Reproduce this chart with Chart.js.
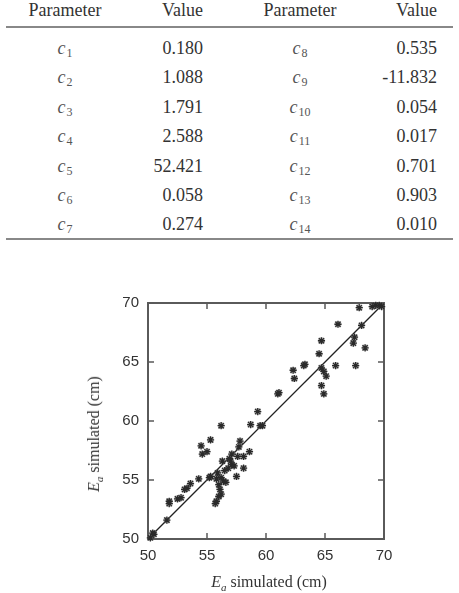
<!DOCTYPE html>
<html>
<head>
<meta charset="utf-8">
<script src="https://cdn.jsdelivr.net/npm/chart.js@4.4.1/dist/chart.umd.min.js"></script>
<style>
  html, body { margin: 0; padding: 0; background: #fff; }
  body { width: 459px; height: 593px; position: relative; overflow: hidden;
         font-family: "Liberation Serif", "Times New Roman", serif; color: #333; }
  .cell { position: absolute; font-size: 18px; line-height: 20px; white-space: nowrap; }
  .c { text-align: center; transform: translateX(-50%); }
  .r { transform: translateX(-100%); }
  .rule { position: absolute; left: 6px; width: 447px; background: #888; }
  .par i { font-style: italic; color: #555; }
  .par sub { font-size: 12px; vertical-align: baseline; position: relative; top: 3px; margin-left: 1px; color: #555; }
  .atitle { position: absolute; font-size: 16px; white-space: nowrap; color: #333; }
  .atitle sub { font-size: 11px; vertical-align: baseline; position: relative; top: 4px; }
  #chartBox { position: absolute; left: 0; top: 250px; width: 459px; height: 343px; }
</style>
</head>
<body>
<div id="table"></div>
<div class="rule" style="top:26px;height:1.5px;"></div>
<div class="rule" style="top:238px;height:2px;"></div>

<div id="chartBox"><canvas id="chart" width="459" height="343"></canvas></div>
<div class="atitle" style="left:269px;top:582px;transform:translate(-50%,-50%);"><i>E<sub>a</sub></i> simulated (cm)</div>
<div class="atitle" style="left:94px;top:434px;transform:translate(-50%,-50%) rotate(-90deg);"><i>E<sub>a</sub></i> simulated (cm)</div>

<script>
// ---- table data ----
const headers = ["Parameter", "Value", "Parameter", "Value"];
const paramIdxLeft = ["1", "2", "3", "4", "5", "6", "7"];
const valuesLeft = ["0.180", "1.088", "1.791", "2.588", "52.421", "0.058", "0.274"];
const paramIdxRight = ["8", "9", "10", "11", "12", "13", "14"];
const valuesRight = ["0.535", "-11.832", "0.054", "0.017", "0.701", "0.903", "0.010"];

// ---- scatter data (x: observed, y: simulated) ----
const observed = [
  67.9, 69.0, 69.3, 69.6, 69.8, 66.1, 68.1, 67.5, 67.4, 68.4,
  64.7, 64.5, 63.2, 63.3, 65.9, 67.6, 64.7, 64.9, 65.1, 62.3,
  62.4, 64.7, 64.9, 61.0, 61.1, 59.3, 56.2, 58.7, 59.5, 59.7,
  55.3, 54.5, 55.0, 54.6, 57.8, 57.7, 58.6, 57.1, 57.6, 58.1,
  56.9, 57.1, 57.3, 58.1, 56.8, 56.5, 57.5, 55.2, 55.3, 54.3,
  55.8, 56.2, 56.4, 56.6, 56.0, 56.1, 56.2, 56.0, 55.8, 55.7,
  53.6, 53.3, 53.1, 52.8, 52.5, 51.8, 51.8, 51.6, 50.5, 50.4,
  50.2, 55.9, 57.0, 56.3
];
const simulated = [
  69.6, 69.7, 69.8, 69.8, 69.7, 68.2, 68.1, 67.1, 66.6, 66.2,
  66.8, 65.7, 64.7, 64.8, 64.7, 64.7, 64.5, 64.2, 63.8, 64.3,
  63.6, 63.0, 62.3, 62.3, 62.4, 60.8, 59.6, 59.7, 59.6, 59.6,
  58.4, 57.9, 57.4, 57.2, 58.3, 57.8, 57.4, 57.2, 57.0, 57.0,
  56.8, 56.3, 56.2, 56.0, 56.0, 55.8, 55.3, 55.2, 55.3, 55.1,
  55.1, 55.2, 54.9, 54.8, 54.6, 54.2, 53.8, 53.6, 53.2, 53.0,
  54.7, 54.3, 54.2, 53.5, 53.4, 53.2, 53.0, 51.6, 50.4, 50.5,
  50.1, 55.6, 56.6, 56.6
];
const lineEnds = [50, 70];
const axisTicks = [50, 55, 60, 65, 70];

// ---- build table ----
const tbl = document.getElementById('table');
function addCell(html, x, yc, cls) {
  const d = document.createElement('div');
  d.className = 'cell ' + cls;
  d.innerHTML = html;
  d.style.left = x + 'px';
  d.style.top = (yc - 10) + 'px';
  tbl.appendChild(d);
}
const colX = [65, 203, 300, 437];
const colCls = ['c', 'r', 'c', 'r'];
headers.forEach((h, i) => addCell(h, colX[i], 10, colCls[i]));
for (let i = 0; i < paramIdxLeft.length; i++) {
  const yc = 48 + i * 29.4;
  addCell('<span class="par"><i>c</i><sub>' + paramIdxLeft[i] + '</sub></span>', colX[0], yc, 'c');
  addCell(valuesLeft[i], colX[1], yc, 'r');
  addCell('<span class="par"><i>c</i><sub>' + paramIdxRight[i] + '</sub></span>', colX[2], yc, 'c');
  addCell(valuesRight[i], colX[3], yc, 'r');
}

// ---- chart ----
const points = observed.map((x, i) => ({ x: x, y: simulated[i] }));
const linePts = [{ x: lineEnds[0], y: lineEnds[0] }, { x: lineEnds[1], y: lineEnds[1] }];

const frameColor = '#5a5a5a';
const framePlugin = {
  id: 'frame',
  beforeDatasetsDraw(chart) {
    const { ctx, chartArea: a, scales } = chart;
    ctx.save();
    ctx.strokeStyle = frameColor;
    ctx.lineWidth = 2;
    ctx.strokeRect(a.left, a.top, a.right - a.left, a.bottom - a.top);
    ctx.lineWidth = 1.5;
    const len = 6;
    axisTicks.forEach(v => {
      const px = scales.x.getPixelForValue(v);
      const py = scales.y.getPixelForValue(v);
      ctx.beginPath();
      ctx.moveTo(px, a.bottom); ctx.lineTo(px, a.bottom - len);
      ctx.moveTo(px, a.top); ctx.lineTo(px, a.top + len);
      ctx.moveTo(a.left, py); ctx.lineTo(a.left + len, py);
      ctx.moveTo(a.right, py); ctx.lineTo(a.right - len, py);
      ctx.stroke();
    });
    ctx.restore();
  }
};

const tickFont = { family: '"Liberation Sans", Arial, sans-serif', size: 15 };
new Chart(document.getElementById('chart'), {
  type: 'scatter',
  data: {
    datasets: [
      {
        type: 'line',
        data: linePts,
        borderColor: '#222',
        borderWidth: 1.3,
        pointRadius: 0,
        fill: false,
        order: 3
      },
      {
        data: points,
        pointStyle: 'rect',
        pointRadius: 3.8,
        borderColor: 'rgba(120,120,120,0.55)',
        backgroundColor: 'rgba(160,160,160,0.25)',
        pointBorderWidth: 1,
        clip: false,
        order: 2
      },
      {
        data: points,
        pointStyle: 'star',
        pointRadius: 3.6,
        borderColor: '#2a2a2a',
        backgroundColor: '#2a2a2a',
        pointBorderWidth: 1.3,
        clip: false,
        order: 1
      }
    ]
  },
  options: {
    responsive: false,
    animation: false,
    events: [],
    layout: { padding: { left: 88, right: 75, top: 53, bottom: 4 } },
    plugins: { legend: { display: false }, tooltip: { enabled: false } },
    scales: {
      x: {
        type: 'linear', min: 50, max: 70,
        afterFit: s => { s.height = 50; },
        afterBuildTicks: s => { s.ticks = axisTicks.map(v => ({ value: v })); },
        ticks: { font: tickFont, color: '#333', padding: 8 },
        grid: { display: false, drawTicks: false },
        border: { display: false }
      },
      y: {
        type: 'linear', min: 50, max: 70,
        afterFit: s => { s.width = 60; },
        afterBuildTicks: s => { s.ticks = axisTicks.map(v => ({ value: v })); },
        ticks: { font: tickFont, color: '#333', padding: 9 },
        grid: { display: false, drawTicks: false },
        border: { display: false }
      }
    }
  },
  plugins: [framePlugin]
});
</script>
</body>
</html>
